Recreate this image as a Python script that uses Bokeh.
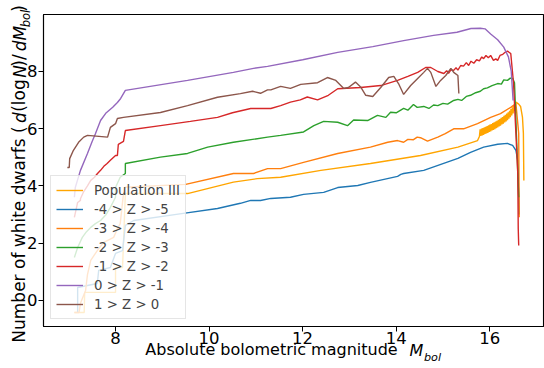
from bokeh.plotting import figure
from bokeh.models import (Range1d, Legend, LegendItem, SingleIntervalTicker, FixedTicker,
                          LinearAxis)
from bokeh.embed import file_html
from bokeh.resources import INLINE

# ---------------- data ----------------
series_labels = ["Population III", "-4 > Z > -5", "-3 > Z > -4", "-2 > Z > -3",
                 "-1 > Z > -2", "0 > Z > -1", "1 > Z > 0"]
series_colors = ["#ffa500", "#1f77b4", "#ff7f0e", "#2ca02c", "#d62728", "#9467bd", "#8c564b"]

pop3_x = [7.12, 7.33, 7.34, 8.00, 8.00, 8.15, 8.21, 9.54, 10.52, 11.03, 11.53, 12.39, 13.45,
          14.52, 15.32, 15.74,
          15.780, 15.795, 15.810, 15.825, 15.840, 15.855, 15.870, 15.885, 15.900, 15.915,
          15.930, 15.945, 15.960, 15.975, 15.990, 16.005, 16.020, 16.035, 16.050, 16.065,
          16.080, 16.095, 16.110, 16.125, 16.140, 16.155, 16.170, 16.185, 16.200, 16.215,
          16.230, 16.245, 16.260, 16.275, 16.290, 16.305, 16.320, 16.335, 16.350, 16.365,
          16.380, 16.395, 16.410, 16.425, 16.440, 16.455, 16.470, 16.485, 16.500, 16.515,
          16.530,
          16.56, 16.62, 16.66, 16.70, 16.72, 16.73]
pop3_y = [-0.42, -0.42, 0.28, 0.28, 1.15, 1.15, 3.73, 3.73, 4.13, 4.25, 4.30, 4.54, 4.78,
          5.06, 5.35, 5.58,
          5.72, 5.97, 5.74, 6.00, 5.76, 6.02, 5.78, 6.04, 5.81, 6.06,
          5.83, 6.09, 5.85, 6.11, 5.88, 6.14, 5.90, 6.16, 5.93, 6.19,
          5.95, 6.22, 5.98, 6.24, 6.01, 6.27, 6.04, 6.30, 6.07, 6.33,
          6.10, 6.37, 6.14, 6.40, 6.17, 6.44, 6.21, 6.48, 6.25, 6.52,
          6.29, 6.57, 6.34, 6.62, 6.40, 6.68, 6.46, 6.74, 6.53, 6.82,
          6.62,
          6.92, 6.85, 6.77, 6.40, 5.83, 4.19]

z45_x = [7.19, 7.19, 7.61, 7.64, 7.89, 8.00, 8.15, 8.21, 8.39, 9.45, 10.18, 10.67, 10.89, 11.10,
         11.32, 11.74, 12.02, 12.45, 12.75, 13.18, 13.45, 14.03, 14.10, 14.16, 14.59, 15.32,
         15.59, 15.87, 16.17, 16.38, 16.49, 16.56, 16.60, 16.63]
z45_y = [-0.42, 0.45, 0.59, 1.05, 1.15, 1.64, 1.74, 2.62, 2.79, 3.04, 3.21, 3.39, 3.49, 3.49,
         3.56, 3.60, 3.70, 3.77, 3.94, 4.01, 4.12, 4.33, 4.40, 4.43, 4.54, 4.96,
         5.17, 5.35, 5.45, 5.48, 5.41, 5.24, 4.89, 3.00]

z34_x = [7.12, 7.22, 7.25, 7.36, 7.40, 7.47, 7.61, 7.74, 7.96, 8.04, 8.10, 8.17, 8.20, 9.50,
         10.52, 10.95, 11.25, 11.53, 12.02, 12.75, 13.45, 13.82, 14.03, 14.16, 14.25, 14.37,
         14.45, 14.52, 14.67, 14.89, 15.05, 15.23, 15.44, 15.74, 16.02, 16.23, 16.45, 16.56,
         16.62, 16.63]
z34_y = [-0.42, -0.42, -0.10, 0.35, 0.90, 1.40, 1.74, 2.02, 2.20, 2.50, 2.68, 3.73, 3.95, 4.05,
         4.43, 4.43, 4.60, 4.60, 4.82, 5.13, 5.35, 5.52, 5.58, 5.52, 5.62, 5.61,
         5.70, 5.68, 5.56, 5.70, 5.82, 5.99, 5.99, 6.17, 6.39, 6.52, 6.74, 6.87,
         5.83, 2.90]

z23_x = [7.12, 7.19, 7.29, 7.38, 7.47, 7.57, 7.68, 7.80, 7.89, 8.00, 8.00, 8.10, 8.21, 8.21,
         8.96, 9.54, 9.97, 10.52, 11.25, 11.53, 12.02, 12.24, 12.45, 12.75, 12.96, 13.09, 13.39,
         13.60, 13.78, 13.88, 14.00, 14.16, 14.25, 14.37, 14.45, 14.59, 14.70, 14.80, 14.89,
         15.00, 15.10, 15.23, 15.32, 15.40, 15.50, 15.59, 15.70, 15.80, 15.87, 15.95, 16.05,
         16.17, 16.25, 16.30, 16.38, 16.44, 16.49, 16.53, 16.56, 16.62]
z23_y = [1.50, 1.85, 2.20, 2.40, 2.55, 2.68, 2.79, 3.00, 3.25, 3.60, 3.94, 4.30, 4.43, 4.78,
         5.00, 5.13, 5.35, 5.52, 5.70, 5.76, 5.88, 6.10, 6.25, 6.22, 6.10, 6.30, 6.28,
         6.46, 6.39, 6.57, 6.55, 6.70, 6.64, 6.84, 6.74, 6.77, 6.70, 6.82, 6.80,
         6.88, 6.85, 6.98, 7.02, 6.98, 7.12, 7.16, 7.25, 7.30, 7.39, 7.42, 7.50,
         7.57, 7.55, 7.70, 7.68, 7.76, 7.75, 7.60, 6.28, 3.60]

z12_x = [7.12, 7.19, 7.25, 7.25, 7.32, 7.40, 7.47, 7.55, 7.61, 7.68, 7.75, 7.82, 7.89, 8.00,
         8.04, 8.06, 8.17, 8.21, 8.96, 9.60, 10.18, 10.50, 10.89, 11.32, 11.53, 11.74, 11.95,
         12.10, 12.32, 12.55, 12.75, 13.24, 13.67, 14.03, 14.25, 14.46, 14.63, 14.74, 14.89,
         15.02, 15.08, 15.12, 15.17, 15.23, 15.28, 15.32, 15.38, 15.44, 15.50, 15.55, 15.60,
         15.66, 15.72, 15.78, 15.83, 15.87, 15.92, 15.97, 16.02, 16.08, 16.13, 16.17, 16.22,
         16.28, 16.33, 16.38, 16.45, 16.51, 16.56, 16.60, 16.61, 16.62]
z12_y = [2.90, 3.42, 3.49, 3.55, 3.80, 4.00, 4.19, 4.30, 4.42, 4.54, 4.68, 4.78, 4.89, 5.06,
         5.06, 5.45, 5.55, 5.93, 6.10, 6.25, 6.39, 6.55, 6.70, 6.70, 6.80, 6.92, 7.00,
         7.10, 7.00, 7.16, 7.39, 7.43, 7.50, 7.68, 7.82, 7.96, 8.13, 8.13, 7.99,
         7.92, 8.02, 7.93, 8.05, 8.03, 8.12, 8.04, 8.20, 8.18, 8.30, 8.20, 8.35,
         8.28, 8.40, 8.36, 8.50, 8.44, 8.55, 8.47, 8.55, 8.38, 8.43, 8.38, 8.55,
         8.59, 8.66, 8.70, 8.62, 7.57, 5.83, 4.43, 2.50, 1.92]

z01_x = [7.12, 7.14, 7.25, 7.40, 7.50, 7.57, 7.68, 7.79, 7.94, 8.04, 8.11, 8.21, 9.54, 10.52,
         10.95, 11.25, 12.00, 12.75, 13.50, 14.16, 14.80, 15.30, 15.60, 15.80, 15.90, 16.02,
         16.17, 16.30, 16.40, 16.46, 16.50]
z01_y = [3.60, 3.94, 4.54, 5.13, 5.55, 5.82, 6.28, 6.53, 6.74, 6.91, 7.05, 7.33, 7.68, 7.96,
         8.10, 8.17, 8.40, 8.66, 8.86, 9.07, 9.25, 9.36, 9.49, 9.50, 9.48, 9.30,
         9.10, 8.84, 8.50, 8.00, 6.98]

z10_x = [6.97, 7.01, 7.02, 7.10, 7.21, 7.32, 7.40, 7.83, 7.89, 8.00, 8.04, 8.17, 8.96, 9.54,
         10.18, 10.67, 10.93, 11.10, 11.25, 11.32, 11.53, 11.74, 11.96, 12.32, 12.53, 12.71,
         12.88, 12.98, 13.13, 13.24, 13.35, 13.50, 13.67, 13.84, 13.95, 14.05, 14.16, 14.31,
         14.46, 14.59, 14.67, 14.74, 14.85, 14.95, 15.06, 15.17, 15.23, 15.32, 15.34]
z10_y = [4.64, 4.64, 4.95, 5.24, 5.52, 5.70, 5.76, 5.70, 6.04, 6.17, 6.35, 6.39, 6.56, 6.80,
         7.09, 7.22, 7.30, 7.23, 7.35, 7.35, 7.47, 7.40, 7.54, 7.60, 7.78, 7.68,
         7.40, 7.43, 7.62, 7.45, 7.16, 7.12, 7.43, 7.78, 7.82, 7.57, 7.19, 7.50,
         7.75, 7.96, 8.10, 7.96, 7.47, 7.68, 7.85, 8.10, 7.96, 7.85, 7.22]

series_x = [pop3_x, z45_x, z34_x, z23_x, z12_x, z01_x, z10_x]
series_y = [pop3_y, z45_y, z34_y, z23_y, z12_y, z01_y, z10_y]

x_ticks_interval = 2
y_ticks_interval = 2

# ---------------- layout ----------------
W, H = 544, 368
FL, FR, FT, FB = 43, 543, 14, 326          # frame edges in px
X0, X1 = 6.46, 17.15
Y0, Y1 = -0.91, 9.98
FONT = "DejaVu Sans"

p = figure(width=W, height=H, output_backend="svg", toolbar_location=None,
           x_range=Range1d(X0, X1), y_range=Range1d(Y0, Y1),
           min_border_left=FL, min_border_right=W - FR, min_border_top=FT,
           min_border_bottom=H - FB)
# pixel-like helper ranges used only to position the axis-title pieces
p.extra_x_ranges = {"px": Range1d(0, FR - FL)}
p.extra_y_ranges = {"py": Range1d(0, FB - FT)}
p.grid.visible = False
p.outline_line_color = "black"
p.outline_line_width = 1.1
p.background_fill_color = "white"
p.border_fill_color = "white"

for ax in (p.xaxis[0], p.yaxis[0]):
    ax.axis_line_color = "black"
    ax.axis_line_width = 1.1
    ax.major_tick_line_color = "black"
    ax.major_tick_in = 0
    ax.major_tick_out = 5
    ax.minor_tick_line_color = None
    ax.major_label_text_font = FONT
    ax.major_label_text_font_size = "16.5px"
    ax.major_label_text_color = "black"
p.xaxis.ticker = SingleIntervalTicker(interval=x_ticks_interval)
p.yaxis.ticker = SingleIntervalTicker(interval=y_ticks_interval)
p.xaxis.major_label_standoff = 0
p.yaxis.major_label_standoff = 1

items = []
for lab, col, xs, ys in zip(series_labels, series_colors, series_x, series_y):
    r = p.line(xs, ys, line_color=col, line_width=1.4)
    items.append(LegendItem(label=lab, renderers=[r]))

legend = Legend(items=items, location=(7, 7), margin=0, padding=5, spacing=1,
                label_height=18, glyph_height=18, glyph_width=27, label_standoff=11,
                label_text_font=FONT, label_text_font_size="13.3px",
                border_line_color="#cccccc", border_line_width=1,
                background_fill_color="white", background_fill_alpha=0.8)
p.add_layout(legend)


def title_axis(side, centers, texts, size, style, standoff):
    """A stacked axis without line/ticks whose tick labels form pieces of an axis title."""
    if side == "below":
        ticks = [int(round(c - FL)) for c in centers]
        ax = LinearAxis(x_range_name="px")
    else:
        ticks = [int(round(FB - c)) for c in centers]
        ax = LinearAxis(y_range_name="py", major_label_orientation="vertical")
    ax.ticker = FixedTicker(ticks=ticks)
    ax.major_label_overrides = {t: s for t, s in zip(ticks, texts)}
    ax.axis_line_color = None
    ax.major_tick_line_color = None
    ax.minor_tick_line_color = None
    ax.major_tick_in = 0
    ax.major_tick_out = 0
    ax.minor_tick_in = 0
    ax.minor_tick_out = 0
    ax.major_label_standoff = standoff
    ax.major_label_text_font = FONT
    ax.major_label_text_font_size = size
    ax.major_label_text_font_style = style
    ax.major_label_text_color = "black"
    p.add_layout(ax, side)


# x axis title: "Absolute bolometric magnitude M_bol"
title_axis("below", [271], ["Absolute bolometric magnitude"], "16px", "normal", -7)
title_axis("below", [416], ["M"], "16px", "italic", -21)
title_axis("below", [432], ["bol"], "11.2px", "italic", -12)

# y axis title: "Number of white dwarfs (d(log N)/dM_bol)" (centers along the axis, px)
NB = "\u00a0"
title_axis("left", [18], ["bol"], "11.5px", "italic", -8)
title_axis("left", [234, 95, 60, 16],
           ["Number of white dwarfs (", "(log", ")/", NB * 3 + ")"], "17px", "normal", -13)
title_axis("left", [117, 71, 38], ["d", "N", "dM"], "17px", "italic", -24)

open("out.html", "w").write(file_html(p, INLINE))
